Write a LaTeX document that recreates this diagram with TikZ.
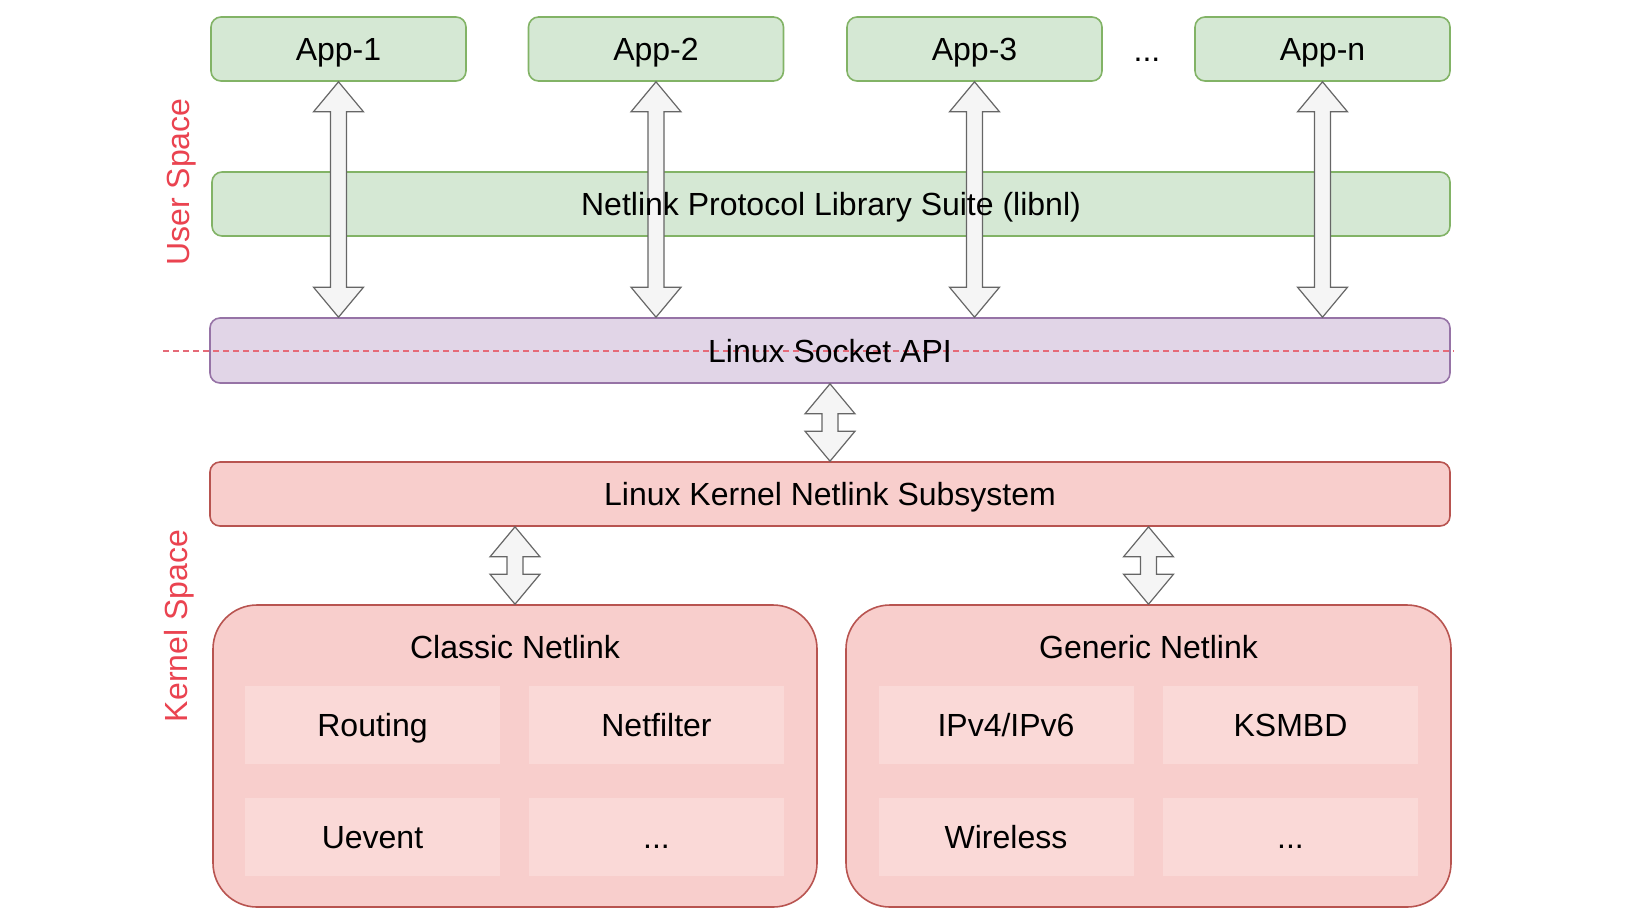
\documentclass[tikz,border=0pt]{standalone}
\usepackage{fontspec}
\setmainfont{Liberation Sans}
\usepackage{tikz}
\usetikzlibrary{positioning, calc}

\definecolor{appfill}{HTML}{D5E8D4}
\definecolor{appline}{HTML}{82B366}
\definecolor{sockfill}{HTML}{E1D5E7}
\definecolor{sockline}{HTML}{9673A6}
\definecolor{kernfill}{HTML}{F8CECC}
\definecolor{kernline}{HTML}{B85450}
\definecolor{subfill}{HTML}{FAD9D7}
\definecolor{spacered}{HTML}{EA4350}
\definecolor{splitred}{HTML}{E56A78}

% double headed block arrow from #1 (top) to #2 (bottom)
\newcommand{\twoway}[2]{%
  \draw[twoway] (#1) -- ($(#1)+(25,30)$) -- ($(#1)+(8,30)$) -- ($(#2)+(8,-30)$) -- ($(#2)+(25,-30)$)
    -- (#2) -- ($(#2)+(-25,-30)$) -- ($(#2)+(-8,-30)$) -- ($(#1)+(-8,30)$) -- ($(#1)+(-25,30)$) -- cycle;}

\begin{document}
\begin{tikzpicture}[
    x=0.5pt, y=-0.5pt,
    every node/.style={font=\fontsize{16}{19}\selectfont, inner sep=0pt, text height=11.5pt, text depth=0pt},
    appbox/.style={rectangle, rounded corners=5pt, draw=appline, fill=appfill, line width=0.8pt, minimum width=127.5pt, minimum height=32pt},
    layer/.style={rectangle, rounded corners=5pt, line width=0.8pt, minimum width=620pt, minimum height=32pt},
    family/.style={rectangle, rounded corners=22pt, draw=kernline, fill=kernfill, line width=0.8pt, minimum width=302pt, minimum height=151pt},
    subbox/.style={rectangle, fill=subfill, minimum width=127.5pt, minimum height=39pt},
    spacelabel/.style={text=spacered, rotate=90},
    twoway/.style={draw=black!60, fill=black!4, line width=0.6pt, line join=miter}
]
\useasboundingbox (0,0) rectangle (1641,917);

% Applications
\foreach \n/\x/\t in {app1/338.5/App-1, app2/656/App-2, app3/974.5/App-3, appn/1322.5/App-n}
    \node[appbox] (\n) at (\x, 49) {\t};
\node (appdots) at (1147, 50) {...};

% Layers
\node[layer, draw=appline, fill=appfill, minimum width=619pt] (libnl) at (831, 204) {};
\node[layer, draw=sockline, fill=sockfill, minimum height=32.5pt] (socket) at (830, 350.5) {};
\coordinate (split-l) at (163, 351);
\coordinate (split-r) at (1454, 351);
\draw[splitred, dash pattern=on 3pt off 2pt, line width=0.6pt] (split-l) -- (split-r);
\node (socketlabel) at (socket) {Linux Socket API};
\node[layer, draw=kernline, fill=kernfill] (kernel) at (830, 494) {Linux Kernel Netlink Subsystem};

% Netlink families
\node[family] (classic) at (515, 756) {};
\node[family, minimum width=302.5pt] (generic) at (1148.5, 756) {};
\node (classictitle) at (515, 647) {Classic Netlink};
\node (generictitle) at (1148.5, 647) {Generic Netlink};

\foreach \n/\x/\y/\t in {routing/372.5/725/Routing, netfilter/656.5/725/Netfilter, uevent/372.5/836.5/Uevent, classicmore/656.5/836.5/{...},
    ipv/1006/725/{IPv4/IPv6}, ksmbd/1290.5/725/KSMBD, wireless/1006/836.5/Wireless, genericmore/1290.5/836.5/{...}}
    \node[subbox] (\n) at (\x, \y) {\t};

% Space labels
\node[spacelabel] (userspace) at (178, 182) {User Space};
\node[spacelabel] (kernelspace) at (176, 626) {Kernel Space};

% Arrows
\foreach \n in {app1, app2, app3, appn} {
    \twoway{\n.south}{\n.south |- socket.north}
}
\twoway{socket.south}{kernel.north}
\twoway{classic.north |- kernel.south}{classic.north}
\twoway{generic.north |- kernel.south}{generic.north}

\node (libnllabel) at (libnl) {Netlink Protocol Library Suite (libnl)};

\end{tikzpicture}
\end{document}
